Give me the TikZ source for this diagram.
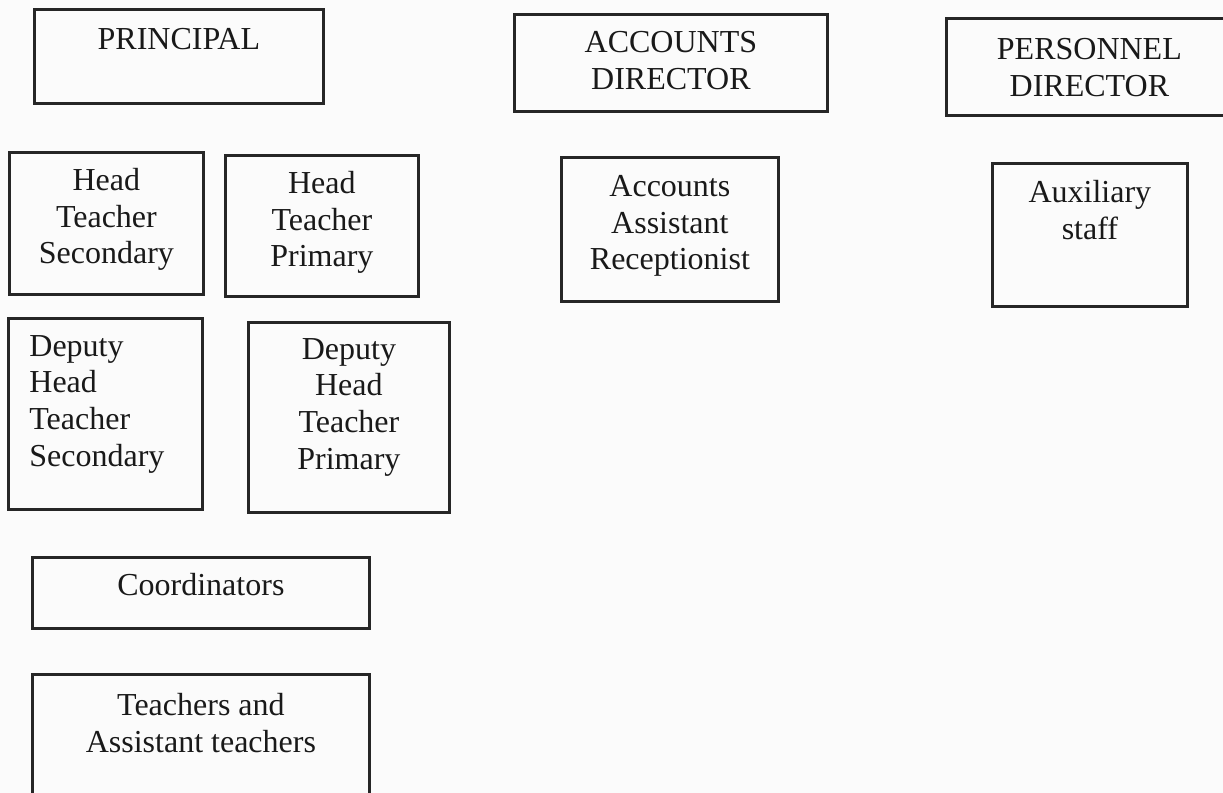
\documentclass[tikz,border=0pt]{standalone}
\usepackage{fontspec}
\setmainfont{Liberation Serif}
\usetikzlibrary{positioning}

\tikzset{box/.style={draw=black!85,line width=1.4pt,rectangle,inner sep=0pt,anchor=north west},
         txt/.style={inner sep=0pt,align=center,text=black!90,font=\fontsize{16}{18.3}\selectfont}}

\begin{document}
\begin{tikzpicture}[x=0.5pt,y=-0.5pt]
\useasboundingbox (0,0) rectangle (1223,793);
\clip (0,0) rectangle (1223,793);
\fill[white!97!gray] (0,0) rectangle (1223,793);
% top row
\node[box,minimum width=144.5pt,minimum height=47pt] (prin) at (33,8) {};
\node[txt,below=10pt of prin.north] (prinT) {PRINCIPAL};
\node[box,minimum width=156.5pt,minimum height=48.5pt] (accdir) at (513,13) {};
\node[txt,below=9pt of accdir.north] (accdirT) {ACCOUNTS\\DIRECTOR};
\node[box,minimum width=143pt,minimum height=48.5pt] (perdir) at (945,17) {};
\node[txt,below=10.5pt of perdir.north] (perdirT) {PERSONNEL\\DIRECTOR};
% second row
\node[box,minimum width=97pt,minimum height=71pt] (hts) at (8,151) {};
\node[txt,below=8.5pt of hts.north] (htsT) {Head\\Teacher\\Secondary};
\node[box,minimum width=96.5pt,minimum height=70.5pt] (htp) at (224,154) {};
\node[txt,below=8.5pt of htp.north] (htpT) {Head\\Teacher\\Primary};
\node[box,minimum width=108.5pt,minimum height=72pt] (aar) at (560,156) {};
\node[txt,below=9.5pt of aar.north] (aarT) {Accounts\\Assistant\\Receptionist};
\node[box,minimum width=97.5pt,minimum height=71.5pt] (aux) at (991,162) {};
\node[txt,below=9pt of aux.north] (auxT) {Auxiliary\\staff};
% deputies
\node[box,minimum width=97pt,minimum height=95.5pt] (dhts) at (7,317) {};
\node[txt,align=left,below right=9pt and 11pt of dhts.north west] (dhtsT) {Deputy\\Head\\Teacher\\Secondary};
\node[box,minimum width=100.5pt,minimum height=95pt] (dhtp) at (247,321) {};
\node[txt,below=8.5pt of dhtp.north] (dhtpT) {Deputy\\Head\\Teacher\\Primary};
% bottom
\node[box,minimum width=168.5pt,minimum height=35.5pt] (coord) at (31,556) {};
\node[txt,below=8.5pt of coord.north] (coordT) {Coordinators};
\node[box,minimum width=168.5pt,minimum height=65pt] (teach) at (31,673) {};
\node[txt,below=10pt of teach.north] (teachT) {Teachers and\\Assistant teachers};
\end{tikzpicture}
\end{document}
